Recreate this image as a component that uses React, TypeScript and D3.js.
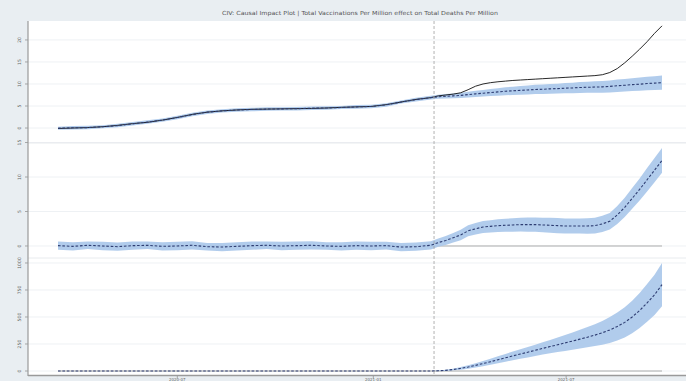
import React from "react";
import * as d3 from "d3";

const TITLE = "CIV: Causal Impact Plot | Total Vaccinations Per Million effect on Total Deaths Per Million";

const dates = [
  "2020-03-11","2020-03-25","2020-04-08","2020-04-22","2020-05-06","2020-05-20","2020-06-03","2020-06-17",
  "2020-07-01","2020-07-15","2020-07-29","2020-08-12","2020-08-26","2020-09-09","2020-09-23","2020-10-07",
  "2020-10-21","2020-11-04","2020-11-18","2020-12-02","2020-12-16","2020-12-30","2021-01-13","2021-01-27",
  "2021-02-10","2021-02-24",
  "2021-03-03","2021-03-10","2021-03-17","2021-03-24","2021-03-31","2021-04-07","2021-04-14","2021-04-21",
  "2021-04-28","2021-05-05","2021-05-12","2021-05-19","2021-05-26","2021-06-02","2021-06-09","2021-06-16",
  "2021-06-23","2021-06-30","2021-07-07","2021-07-14","2021-07-21","2021-07-28","2021-08-04","2021-08-11",
  "2021-08-18","2021-08-25","2021-09-01","2021-09-08","2021-09-15","2021-09-22","2021-09-29",
];
const interventionDate = "2021-02-27";

const actual = [
  -0.1, 0.0, 0.1, 0.3, 0.6, 1.0, 1.3, 1.8, 2.4, 3.1, 3.6, 3.9, 4.1, 4.25, 4.3, 4.35, 4.4, 4.45, 4.55, 4.7, 4.8, 4.9, 5.3, 5.9, 6.5, 6.9,
  7.3, 7.5, 7.7, 8.0, 8.7, 9.5, 10.0, 10.3, 10.5, 10.65, 10.8, 10.9, 11.0, 11.1, 11.2, 11.3, 11.4, 11.5, 11.6, 11.7, 11.8, 11.9, 12.1, 12.6, 13.5, 14.8, 16.3, 17.9, 19.6, 21.5, 23.2,
];
const predicted = [
  -0.05, 0.05, 0.1, 0.3, 0.55, 0.95, 1.35, 1.8, 2.4, 3.05, 3.6, 3.9, 4.1, 4.2, 4.3, 4.35, 4.4, 4.5, 4.55, 4.65, 4.8, 4.9, 5.25, 5.9, 6.45, 6.9,
  7.1, 7.2, 7.3, 7.4, 7.6, 7.75, 7.9, 8.05, 8.2, 8.35, 8.45, 8.55, 8.65, 8.75, 8.8, 8.9, 8.95, 9.05, 9.1, 9.2, 9.25, 9.3, 9.35, 9.45, 9.6, 9.7, 9.85, 9.95, 10.1, 10.2, 10.3,
];
const predictedHalfWidth = [
  0.35, 0.4, 0.4, 0.35, 0.4, 0.4, 0.4, 0.35, 0.4, 0.4, 0.4, 0.35, 0.4, 0.4, 0.4, 0.35, 0.4, 0.4, 0.4, 0.35, 0.4, 0.4, 0.4, 0.35, 0.4, 0.4,
  0.45, 0.5, 0.55, 0.6, 0.65, 0.7, 0.75, 0.8, 0.85, 0.9, 0.95, 1.0, 1.02, 1.05, 1.08, 1.1, 1.13, 1.16, 1.2, 1.23, 1.26, 1.3, 1.33, 1.36, 1.4, 1.43, 1.47, 1.5, 1.53, 1.57, 1.6,
];
const pointEffect = [
  0.05, -0.05, 0.1, 0.0, -0.1, 0.05, 0.1, -0.05, 0.0, 0.1, -0.1, -0.15, -0.05, 0.05, 0.1, 0.0, 0.05, 0.1, 0.0, -0.05, 0.05, 0.0, 0.05, -0.15, -0.1, 0.1,
  0.5, 0.8, 1.2, 1.6, 2.2, 2.5, 2.75, 2.85, 2.95, 3.0, 3.05, 3.1, 3.1, 3.1, 3.05, 3.0, 2.95, 2.9, 2.9, 2.9, 2.9, 2.95, 3.2, 3.6, 4.5, 5.6, 6.9, 8.2, 9.6, 11.0, 12.4,
];
const pointHalfWidth = [
  0.6, 0.6, 0.55, 0.6, 0.6, 0.6, 0.55, 0.6, 0.6, 0.6, 0.55, 0.6, 0.6, 0.6, 0.55, 0.6, 0.6, 0.6, 0.55, 0.6, 0.6, 0.6, 0.55, 0.6, 0.6, 0.6,
  0.6, 0.65, 0.7, 0.75, 0.8, 0.85, 0.88, 0.9, 0.93, 0.95, 0.98, 1.0, 1.02, 1.04, 1.06, 1.08, 1.1, 1.1, 1.1, 1.1, 1.12, 1.15, 1.18, 1.2, 1.3, 1.4, 1.5, 1.6, 1.7, 1.75, 1.8,
];
const cumEffect = [
  0, 0, 0, 0, 0, 0, 0, 0, 0, 0, 0, 0, 0, 0, 0, 0, 0, 0, 0, 0, 0, 0, 0, 0, 0, 0,
  2, 6, 14, 24, 37, 52, 69, 86, 104, 122, 140, 157, 174, 192, 209, 226, 243, 260, 277, 295, 313, 332, 354, 380, 412, 450, 500, 560, 630, 705, 800,
];
const cumHalfWidth = [
  0, 0, 0, 0, 0, 0, 0, 0, 0, 0, 0, 0, 0, 0, 0, 0, 0, 0, 0, 0, 0, 0, 0, 0, 0, 0,
  3, 5, 8, 12, 16, 20, 24, 28, 32, 36, 40, 44, 48, 52, 56, 62, 68, 74, 80, 87, 94, 101, 110, 120, 130, 140, 150, 162, 175, 187, 200,
];

const topTicks = [0, 5, 10, 15, 20];
const midTicks = [0, 5, 10, 15];
const cumTicks = [0, 250, 500, 750, 1000];
const xTickDates = ["2020-07-01", "2021-01-01", "2021-07-01"];
const xTickLabels = ["2020-07", "2021-01", "2021-07"];

const W = 686;
const H = 381;
const LEFT = 28;
const BG = "#e9eef2";
const BAND = "#a9c6ea";
const DASH = "#2e3d72";

const parse = d3.timeParse("%Y-%m-%d");

export default function App() {
  const ds = dates.map((s) => parse(s) as Date);
  const x = d3.scaleTime().domain([ds[0], ds[ds.length - 1]]).range([58, 662]);
  const xI = x(parse(interventionDate) as Date);

  const panels = [
    { top: 21, bottom: 143, domain: [-3.4, 24.3], ticks: topTicks, mean: predicted, hw: predictedHalfWidth, actual: actual, zero: false },
    { top: 143, bottom: 258, domain: [-1.74, 14.93], ticks: midTicks, mean: pointEffect, hw: pointHalfWidth, actual: null, zero: true },
    { top: 258, bottom: 375, domain: [-37, 1046], ticks: cumTicks, mean: cumEffect, hw: cumHalfWidth, actual: null, zero: true },
  ];

  return (
    <svg width={W} height={H} style={{ display: "block", position: "absolute", left: 0, top: 0 }} fontFamily="DejaVu Sans, sans-serif">
      <rect x={0} y={0} width={W} height={H} fill={BG} />
      <text x={360} y={15} textAnchor="middle" fontSize={5.6} fill="#555" textLength={276} lengthAdjust="spacingAndGlyphs">{TITLE}</text>
      {panels.map((p, pi) => {
        const y = d3.scaleLinear().domain(p.domain).range([p.bottom, p.top]);
        const area = d3.area<number>()
          .x((_, i) => x(ds[i]))
          .y0((v, i) => y(v - p.hw[i]))
          .y1((v, i) => y(v + p.hw[i]));
        const line = d3.line<number>().x((_, i) => x(ds[i])).y((v) => y(v));
        const clipId = `clip${pi}`;
        return (
          <g key={pi}>
            <defs>
              <clipPath id={clipId}>
                <rect x={LEFT} y={p.top} width={W - LEFT} height={p.bottom - p.top} />
              </clipPath>
            </defs>
            <rect x={LEFT} y={p.top} width={W - LEFT} height={p.bottom - p.top} fill="#ffffff" />
            {p.ticks.map((t) => (
              <line key={t} x1={LEFT} x2={W} y1={y(t)} y2={y(t)} stroke="#eef1f4" strokeWidth={1} />
            ))}
            <g clipPath={`url(#${clipId})`}>
              {p.zero && (
                <line x1={x(ds[0])} x2={x(ds[ds.length - 1])} y1={y(0)} y2={y(0)} stroke="#9a9a9a" strokeWidth={0.8} />
              )}
              <path d={area(p.mean) || ""} fill={BAND} fillOpacity={0.9} />
              {p.actual && <path d={line(p.actual) || ""} fill="none" stroke="#111" strokeWidth={0.9} />}
              <path d={line(p.mean) || ""} fill="none" stroke={DASH} strokeWidth={1.1} strokeDasharray="2.6,1.8" />
            </g>
            {p.ticks.map((t) => (
              <g key={"t" + t}>
                <line x1={LEFT - 3} x2={LEFT} y1={y(t)} y2={y(t)} stroke="#888" strokeWidth={0.7} />
                <text
                  transform={`translate(${LEFT - 7},${y(t)}) rotate(-90)`}
                  textAnchor="middle"
                  fontSize={4.6}
                  fill="#666"
                >
                  {t}
                </text>
              </g>
            ))}
            {pi > 0 && <line x1={LEFT} x2={W} y1={p.top} y2={p.top} stroke="#e2e6ea" strokeWidth={0.8} />}
          </g>
        );
      })}
      <line x1={xI} x2={xI} y1={21} y2={375} stroke="#a0a0a0" strokeWidth={0.8} strokeDasharray="3,2" />
      <line x1={LEFT} x2={LEFT} y1={21} y2={376} stroke="#999" strokeWidth={1.2} />
      <line x1={LEFT} x2={W} y1={375.5} y2={375.5} stroke="#9a9a9a" strokeWidth={1.6} />
      {xTickDates.map((s, i) => {
        const xx = x(parse(s) as Date);
        return (
          <g key={s}>
            <line x1={xx} x2={xx} y1={376} y2={378.5} stroke="#888" strokeWidth={0.7} />
            <text x={xx} y={380.6} textAnchor="middle" fontSize={4} fill="#666">{xTickLabels[i]}</text>
          </g>
        );
      })}
    </svg>
  );
}
